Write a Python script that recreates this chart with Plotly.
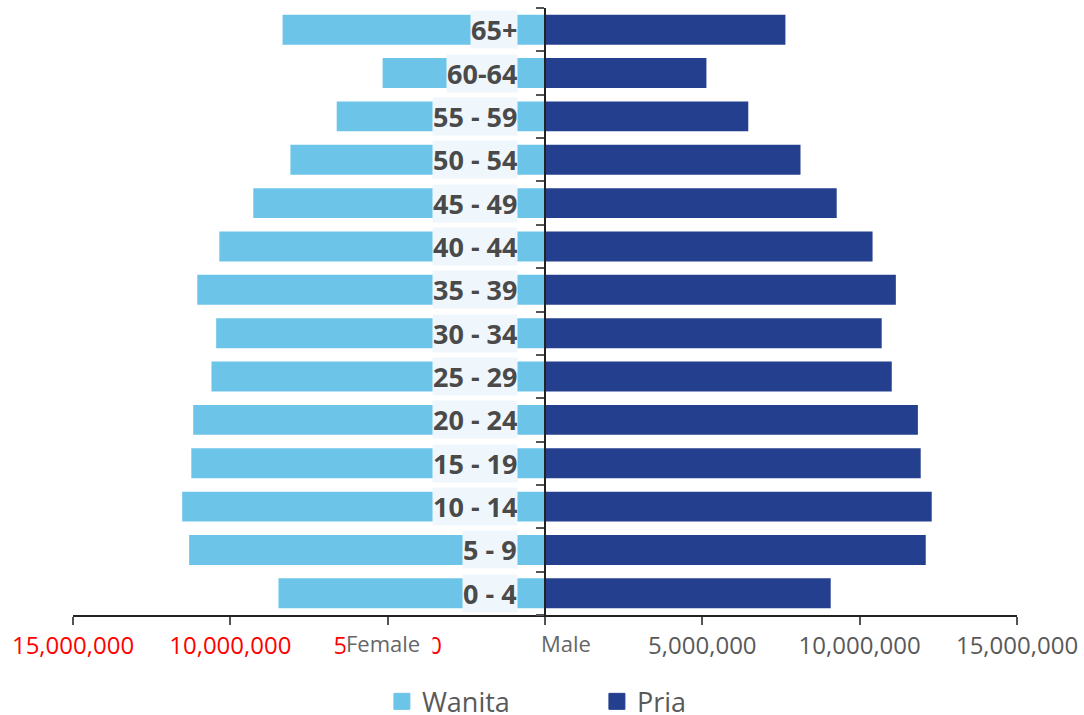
import plotly.graph_objects as go

# Age groups, youngest first (drawn bottom to top)
age_groups = ["0 - 4", "5 - 9", "10 - 14", "15 - 19", "20 - 24", "25 - 29", "30 - 34",
              "35 - 39", "40 - 44", "45 - 49", "50 - 54", "55 - 59", "60-64", "65+"]

# Population by age group
wanita = [8470000, 11310000, 11530000, 11240000, 11180000, 10600000, 10450000,
          11050000, 10350000, 9270000, 8090000, 6620000, 5160000, 8340000]
pria = [9080000, 12100000, 12290000, 11940000, 11850000, 11020000, 10700000,
        11150000, 10410000, 9270000, 8120000, 6460000, 5130000, 7640000]

tick_vals = [-15000000, -10000000, -5000000, 0, 5000000, 10000000, 15000000]
tick_text = ['<span style="color:#ff0000">15,000,000</span>',
             '<span style="color:#ff0000">10,000,000</span>',
             '<span style="color:#ff0000">5,000,000</span>',
             "", "5,000,000", "10,000,000", "15,000,000"]

C_WANITA = "#6cc5e9"
C_PRIA = "#253f8f"
FONT = "Open Sans"

fig = go.Figure()
fig.add_trace(go.Bar(y=age_groups, x=[-v for v in wanita], orientation="h",
                     marker=dict(color=C_WANITA, line=dict(width=0)),
                     name="Wanita", showlegend=False))
fig.add_trace(go.Bar(y=age_groups, x=pria, orientation="h",
                     marker=dict(color=C_PRIA, line=dict(width=0)),
                     name="Pria", showlegend=False))

# legend swatches
for name, col in (("Wanita", C_WANITA), ("Pria", C_PRIA)):
    fig.add_trace(go.Scatter(x=[None], y=[None], mode="markers", name=name,
                             marker=dict(symbol="square", size=16, color=col,
                                         line=dict(color=col, width=1))))

# age group labels beside the centre axis
for g in age_groups:
    fig.add_annotation(x=0, y=g, xref="x", yref="y", text=f"<b>{g}</b>",
                       showarrow=False, xanchor="right", xshift=-27,
                       bgcolor="#eff7fc", borderpad=0,
                       font=dict(family=FONT, size=27, color="#4a4a4a"))

# side captions under the axis
fig.add_annotation(x=-5000000, y=0, xref="x", yref="paper", yshift=-28,
                   yanchor="middle",
                   text="Female\u00a0\u00a0", showarrow=False, xanchor="left", xshift=-43,
                   bgcolor="white", borderpad=0,
                   font=dict(family=FONT, size=22, color="#666666"))
fig.add_annotation(x=0, y=0, xref="x", yref="paper", yshift=-28,
                   yanchor="middle",
                   text="Male", showarrow=False, xanchor="left", xshift=-6,
                   font=dict(family=FONT, size=22, color="#666666"))

fig.update_layout(
    width=1084, height=715,
    margin=dict(l=73, r=67, t=8, b=100, autoexpand=False),
    paper_bgcolor="white", plot_bgcolor="white",
    barmode="relative", bargap=0.31,
    font=dict(family=FONT, color="#595959"),
    legend=dict(orientation="h", x=0.555, xanchor="center", y=-0.143, yanchor="middle",
                font=dict(family=FONT, size=27, color="#595959"),
                entrywidth=170, itemclick=False),
    xaxis=dict(range=[-15000000, 15000000], tickvals=tick_vals, ticktext=tick_text,
               showgrid=False, zeroline=False, showline=True, linecolor="#222222",
               linewidth=1.5, ticks="outside", ticklen=8, tickcolor="#555555",
               tickwidth=2, automargin=False,
               tickfont=dict(family=FONT, size=24, color="#595959")),
    yaxis=dict(categoryorder="array", categoryarray=age_groups,
               anchor="free", position=0.5, showgrid=False, zeroline=False,
               showline=True, linecolor="#222222", linewidth=1.5,
               ticks="outside", ticklen=8, tickcolor="#555555", tickwidth=2,
               tickson="boundaries", showticklabels=False, automargin=False),
)

fig.write_html("out.html")
